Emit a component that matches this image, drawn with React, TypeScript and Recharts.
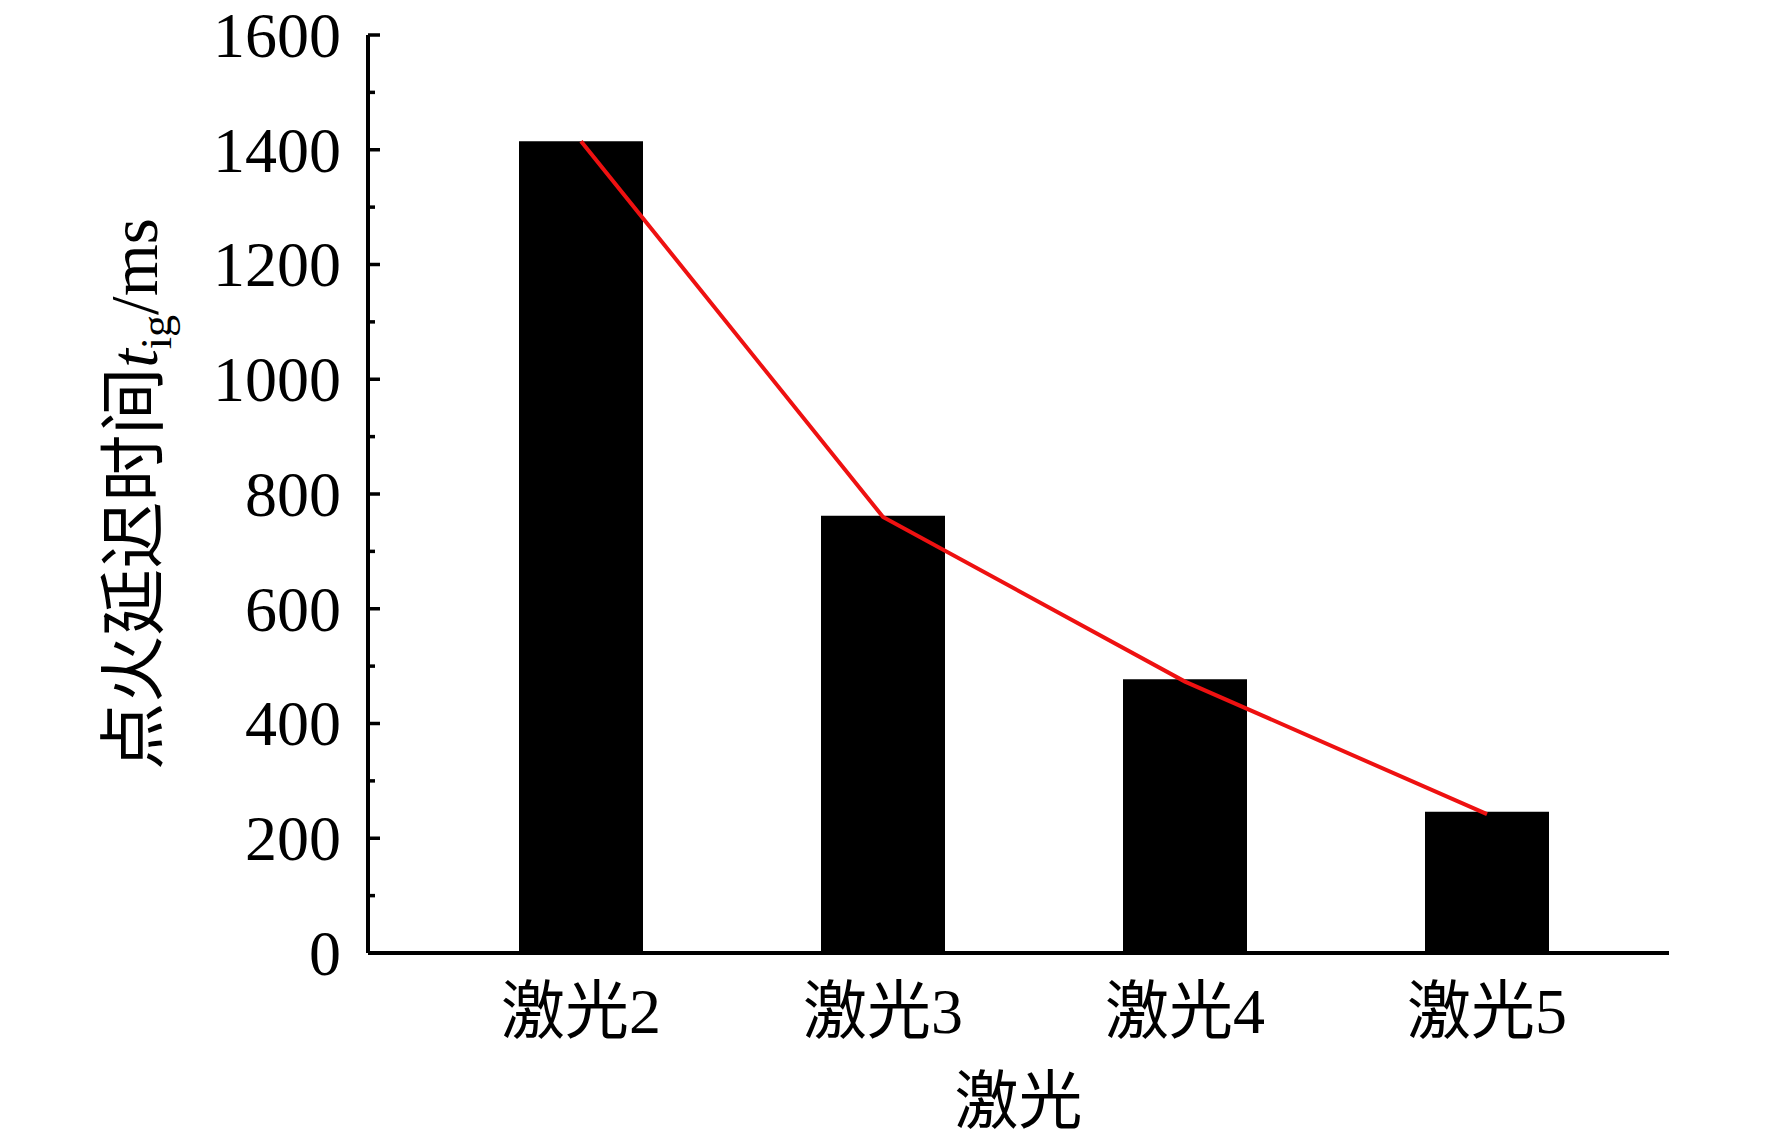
import React from 'react';
import { ComposedChart, Bar, Line, XAxis, YAxis } from 'recharts';

const categories = ['激光2', '激光3', '激光4', '激光5'];
const barValues = [1415, 762, 477, 246];
const lineValues = [1415, 760, 473, 242];
const yTicks = [0, 100, 200, 300, 400, 500, 600, 700, 800, 900, 1000, 1100, 1200, 1300, 1400, 1500, 1600];

const data = categories.map((c, i) => ({ name: c, bar: barValues[i], line: lineValues[i] }));

const FONT = "'Liberation Serif', 'Times New Roman', 'Noto Sans CJK SC', serif";
const AX = 4;

const YTick = (props: any) => {
  const { x, y, payload } = props;
  const v = payload.value;
  const major = v % 200 === 0;
  return (
    <g>
      <line x1={x} x2={x + (major ? 12 : 7)} y1={y} y2={y} stroke="#000" strokeWidth={3.5} />
      {major && (
        <text x={x - 27} y={y} dy="0.34em" textAnchor="end" fontFamily={FONT} fontSize={64} fill="#000">
          {v}
        </text>
      )}
    </g>
  );
};

const XTick = (props: any) => {
  const { x, y, payload } = props;
  return (
    <text x={x} y={y + 80} textAnchor="middle" fontFamily={FONT} fontSize={64} fill="#000">
      {payload.value}
    </text>
  );
};

const YTitle = (props: any) => {
  const vb = props.viewBox || {};
  const cy = (vb.y || 0) + (vb.height || 0) / 2;
  const cx = (vb.x || 0) + 157;
  return (
    <text transform={`translate(${cx},${cy}) rotate(-90)`} textAnchor="middle" fontFamily={FONT} fontSize={67} fill="#000">
      <tspan>点火延迟时间</tspan>
      <tspan fontStyle="italic">t</tspan>
      <tspan fontSize={44} dy={14}>ig</tspan>
      <tspan dy={-14}>/ms</tspan>
    </text>
  );
};

const XTitle = (props: any) => {
  const vb = props.viewBox || {};
  const cx = (vb.x || 0) + (vb.width || 0) / 2;
  const y = (vb.y || 0) + 170;
  return (
    <text x={cx} y={y} textAnchor="middle" fontFamily={FONT} fontSize={64} fill="#000">
      激光
    </text>
  );
};

export default function App() {
  return (
    <div style={{ position: 'absolute', left: 0, top: 0, width: 1772, height: 1145, background: '#fff' }}>
      <ComposedChart width={1772} height={1145} data={data} margin={{ top: 35, right: 103, bottom: 0, left: 0 }}>
        <XAxis
          dataKey="name"
          height={192}
          padding={{ left: 62, right: 31 }}
          tickSize={0}
          tickMargin={0}
          tick={<XTick />}
          axisLine={{ stroke: '#000', strokeWidth: AX }}
          tickLine={false}
          interval={0}
          label={<XTitle />}
        />
        <XAxis xAxisId="top" dataKey="name" orientation="top" height={0} tick={false} tickLine={false} axisLine={{ stroke: '#000', strokeWidth: AX }} />
        <YAxis
          width={368}
          domain={[0, 1600]}
          ticks={yTicks}
          interval={0}
          tickSize={0}
          tickMargin={0}
          tick={<YTick />}
          tickLine={false}
          axisLine={{ stroke: '#000', strokeWidth: AX }}
          allowDataOverflow
          label={<YTitle />}
        />
        <YAxis yAxisId="r" orientation="right" width={0} domain={[0, 1600]} tick={false} tickLine={false} axisLine={{ stroke: '#000', strokeWidth: AX }} />
        <Bar dataKey="bar" fill="#000" barSize={124} isAnimationActive={false} />
        <Line dataKey="line" type="linear" stroke="#ee1111" strokeWidth={4} dot={false} activeDot={false} isAnimationActive={false} />
      </ComposedChart>
    </div>
  );
}
